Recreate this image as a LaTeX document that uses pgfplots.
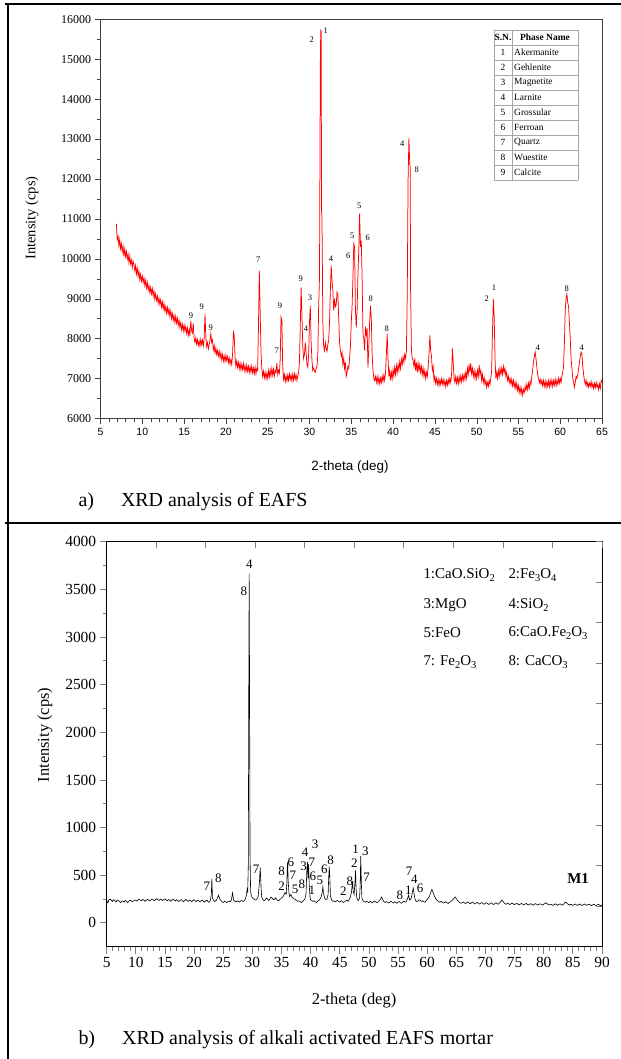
\documentclass[border=0pt]{standalone}
\usepackage{fontspec}
\setmainfont{Liberation Serif}
\newfontfamily\sans{Liberation Sans}
\usepackage{pgfplots}
\pgfplotsset{compat=1.18}
\newcommand{\fs}[1]{\fontsize{#1}{#1}\selectfont}
\newcommand{\sub}[1]{\raisebox{-3.5bp}{\fs{10.5}#1}}

\begin{document}
\begin{tikzpicture}[x=1bp,y=1bp]
\useasboundingbox (0,0) rectangle (621,-1059);
% frame of the figure table
\draw[line width=2bp] (5,-4) -- (621,-4);
\draw[line width=1.8bp] (8,-4) -- (8,-1059);
\draw[line width=1.8bp] (5,-523) -- (621,-523);

% ---------- a) EAFS ----------
\begin{axis}[
  at={(100.5bp,-418.3bp)}, anchor=south west,
  scale only axis, width=501.5bp, height=399bp,
  xmin=5, xmax=65, ymin=6000, ymax=16000,
  xtick={5,10,...,65}, minor x tick num=4,
  ytick={6000,7000,...,16000}, minor y tick num=1,
  tick pos=left, tick align=outside,
  major tick length=6bp, minor tick length=4bp,
  axis line style={black!75}, tick style={black!75},
  /pgf/number format/assume math mode=true,
  scaled y ticks=false,
  yticklabel style={/pgf/number format/1000 sep={}, font=\fs{12}},
  xticklabel style={font=\sans\fs{10.5}},
]
\addplot[red, line width=0.75pt] coordinates {
(6.9,10870)(7.0,10480)(7.1,10560)(7.2,10320)(7.3,10480)(7.4,10250)(7.5,10380)(7.6,10180)(7.7,10310)(7.8,10060)(7.9,10240)
(8.0,10050)(8.1,10180)(8.2,9990)(8.3,10110)(8.4,9900)(8.5,10060)(8.6,9870)(8.7,9960)(8.8,9780)(8.9,9940)
(9.0,9860)(9.1,9700)(9.2,9830)(9.3,9620)(9.4,9760)(9.5,9560)(9.6,9690)(9.7,9470)(9.8,9610)(9.9,9440)
(10.0,9560)(10.1,9400)(10.2,9520)(10.3,9330)(10.4,9460)(10.5,9270)(10.6,9400)(10.7,9210)(10.8,9330)(10.9,9150)
(11.0,9280)(11.1,9120)(11.2,9250)(11.3,9060)(11.4,9190)(11.5,8990)(11.6,9120)(11.7,8960)(11.8,9060)(11.9,8880)
(12.0,9010)(12.1,8860)(12.2,8970)(12.3,8790)(12.4,8920)(12.5,8740)(12.6,8870)(12.7,8690)(12.8,8800)(12.9,8640)
(13.0,8780)(13.1,8620)(13.2,8740)(13.3,8560)(13.4,8690)(13.5,8500)(13.6,8630)(13.7,8460)(13.8,8580)(13.9,8400)
(14.0,8550)(14.1,8390)(14.2,8510)(14.3,8330)(14.4,8450)(14.5,8280)(14.6,8400)(14.7,8220)(14.8,8350)(14.9,8190)
(15.0,8340)(15.1,8190)(15.2,8300)(15.3,8130)(15.4,8260)(15.5,8080)(15.6,8220)(15.7,8060)(15.8,8450)(15.9,8200)
(16.0,8140)(16.1,8380)(16.2,8010)(16.3,7900)(16.4,8020)(16.5,7860)(16.6,7970)(16.7,7830)(16.8,7940)(16.9,7810)
(17.0,7980)(17.1,7850)(17.2,7960)(17.3,7810)(17.4,7990)(17.5,8620)(17.6,8050)(17.7,7800)(17.8,7900)(17.9,7740)
(18.0,7850)(18.1,7960)(18.2,8120)(18.3,7900)(18.4,7960)(18.5,7720)(18.6,7820)(18.7,7640)(18.8,7760)(18.9,7600)
(19.0,7700)(19.1,7560)(19.2,7680)(19.3,7520)(19.4,7640)(19.5,7470)(19.6,7600)(19.7,7440)(19.8,7560)(19.9,7420)
(20.0,7580)(20.1,7450)(20.2,7550)(20.3,7390)(20.4,7510)(20.5,7360)(20.6,7470)(20.7,7350)(20.8,7600)(20.9,8160)
(21.0,8080)(21.1,7520)(21.2,7300)(21.3,7440)(21.4,7280)(21.5,7400)(21.6,7240)(21.7,7380)(21.8,7220)(21.9,7350)
(22.0,7220)(22.1,7370)(22.2,7200)(22.3,7320)(22.4,7170)(22.5,7330)(22.6,7180)(22.7,7300)(22.8,7150)(22.9,7290)
(23.0,7160)(23.1,7310)(23.2,7140)(23.3,7260)(23.4,7120)(23.5,7280)(23.6,7110)(23.7,7250)(23.8,7200)(23.9,8300)
(24.0,9700)(24.1,8700)(24.2,7650)(24.3,7250)(24.4,7050)(24.5,7180)(24.6,7020)(24.7,7150)(24.8,6990)(24.9,7130)
(25.0,7000)(25.1,7200)(25.2,7040)(25.3,7210)(25.4,7060)(25.5,7250)(25.6,7080)(25.7,7230)(25.8,7060)(25.9,7200)
(26.0,7150)(26.1,7380)(26.2,7100)(26.3,7200)(26.4,7130)(26.5,7480)(26.6,8530)(26.7,8450)(26.8,7300)(26.9,6980)
(27.0,7100)(27.1,6920)(27.2,7060)(27.3,6930)(27.4,7080)(27.5,6950)(27.6,7110)(27.7,6970)(27.8,7090)(27.9,6940)
(28.0,7100)(28.1,6960)(28.2,7120)(28.3,6980)(28.4,7090)(28.5,6950)(28.6,7060)(28.7,7150)(28.8,7400)(28.9,8300)
(29.0,9280)(29.1,8600)(29.2,7800)(29.3,7500)(29.4,7600)(29.5,7900)(29.6,7650)(29.7,7350)(29.8,7280)(29.9,7600)
(30.0,8400)(30.1,8825)(30.2,7900)(30.3,7450)(30.4,7200)(30.5,7260)(30.6,7180)(30.7,7150)(30.8,7250)(30.9,7300)
(31.0,7600)(31.1,8800)(31.2,9530)(31.3,14870)(31.35,15720)(31.4,15700)(31.45,11200)(31.5,11000)(31.6,8400)(31.7,7800)(31.8,7700)(31.9,7900)
(32.0,7750)(32.1,7680)(32.2,7850)(32.3,7950)(32.4,8400)(32.5,9200)(32.6,9825)(32.7,9450)(32.8,9200)(32.9,8700)
(33.0,9000)(33.1,8800)(33.2,8850)(33.3,9160)(33.4,9100)(33.5,8500)(33.6,7900)(33.7,7700)(33.8,7550)(33.9,7650)
(34.0,7350)(34.1,7500)(34.2,7250)(34.3,7400)(34.4,7050)(34.5,7150)(34.6,7300)(34.7,7250)(34.8,7500)(34.9,7800)
(35.0,8400)(35.1,8800)(35.2,9500)(35.3,10370)(35.4,10300)(35.5,8700)(35.6,8280)(35.7,8700)(35.8,9600)(35.9,10200)
(36.0,11130)(36.1,10300)(36.2,10450)(36.3,9500)(36.4,8120)(36.5,8000)(36.6,7700)(36.7,8300)(36.8,8100)(36.9,8250)
(37.0,7270)(37.1,7800)(37.2,8400)(37.3,8825)(37.4,8500)(37.5,7600)(37.6,7200)(37.7,7000)(37.8,6950)(37.9,7050)
(38.0,6900)(38.1,7050)(38.2,6880)(38.3,7020)(38.4,6870)(38.5,7010)(38.6,6900)(38.7,7060)(38.8,6920)(38.9,7080)
(39.0,6950)(39.1,7150)(39.2,7600)(39.3,8120)(39.4,7500)(39.5,7050)(39.6,7200)(39.7,6950)(39.8,7150)(39.9,7000)
(40.0,7220)(40.1,7050)(40.2,7280)(40.3,7100)(40.4,7320)(40.5,7150)(40.6,7350)(40.7,7200)(40.8,7420)(40.9,7250)
(41.0,7480)(41.1,7350)(41.2,7550)(41.3,7400)(41.4,7600)(41.5,7500)(41.6,7700)(41.7,9120)(41.8,12000)(41.9,13030)
(42.0,12370)(42.05,12300)(42.1,9220)(42.2,7700)(42.3,7500)(42.4,7450)(42.5,7300)(42.6,7500)(42.7,7200)(42.8,7400)(42.9,7150)
(43.0,7380)(43.1,7200)(43.2,7350)(43.3,7150)(43.4,7300)(43.5,7100)(43.6,7250)(43.7,7050)(43.8,7200)(43.9,7000)
(44.0,7150)(44.1,7050)(44.2,7300)(44.3,7600)(44.4,8075)(44.5,7700)(44.6,7550)(44.7,7200)(44.8,7300)(44.9,6950)
(45.0,7050)(45.1,6880)(45.2,7000)(45.3,6850)(45.4,6980)(45.5,6820)(45.6,6960)(45.7,6850)(45.8,6990)(45.9,6860)
(46.0,6970)(46.1,6830)(46.2,6950)(46.3,6800)(46.4,6940)(46.5,6830)(46.6,6980)(46.7,6860)(46.8,7000)(46.9,6900)
(47.0,7100)(47.1,7750)(47.2,7400)(47.3,7000)(47.4,6900)(47.5,7050)(47.6,6880)(47.7,7020)(47.8,6870)(47.9,7050)
(48.0,6900)(48.1,7060)(48.2,6920)(48.3,7080)(48.4,6950)(48.5,7100)(48.6,6970)(48.7,7150)(48.8,7000)(48.9,7250)
(49.0,7100)(49.1,7350)(49.2,7150)(49.3,7380)(49.4,7120)(49.5,7250)(49.6,7050)(49.7,7200)(49.8,7000)(49.9,7150)
(50.0,7000)(50.1,7200)(50.2,7050)(50.3,7330)(50.4,7100)(50.5,7200)(50.6,6950)(50.7,7100)(50.8,6900)(50.9,7020)
(51.0,6850)(51.1,6950)(51.2,6780)(51.3,6900)(51.4,6800)(51.5,6950)(51.6,6850)(51.7,7000)(51.8,7200)(51.9,8200)
(52.0,8990)(52.1,8550)(52.2,7500)(52.3,7000)(52.4,7150)(52.5,7000)(52.6,7200)(52.7,7050)(52.8,7250)(52.9,7100)
(53.0,7250)(53.1,7100)(53.2,7300)(53.3,7150)(53.4,7250)(53.5,7050)(53.6,7150)(53.7,6950)(53.8,7050)(53.9,6900)
(54.0,7000)(54.1,6850)(54.2,6980)(54.3,6820)(54.4,6950)(54.5,6780)(54.6,6900)(54.7,6750)(54.8,6880)(54.9,6700)
(55.0,6820)(55.1,6650)(55.2,6780)(55.3,6620)(55.4,6750)(55.5,6580)(55.6,6720)(55.7,6650)(55.8,6800)(55.9,6700)
(56.0,6850)(56.1,6720)(56.2,6880)(56.3,6750)(56.4,6920)(56.5,6850)(56.6,7050)(56.7,7200)(56.8,7400)(56.9,7550)
(57.0,7660)(57.1,7500)(57.2,7300)(57.3,7100)(57.4,7000)(57.5,6900)(57.6,6980)(57.7,6850)(57.8,6950)(57.9,6820)
(58.0,6950)(58.1,6800)(58.2,6930)(58.3,6780)(58.4,6920)(58.5,6800)(58.6,6940)(58.7,6790)(58.8,6950)(58.9,6820)
(59.0,6960)(59.1,6800)(59.2,6940)(59.3,6830)(59.4,6980)(59.5,6820)(59.6,6950)(59.7,6850)(59.8,7000)(59.9,6880)
(60.0,7000)(60.1,6900)(60.2,7050)(60.3,7150)(60.4,7300)(60.5,7900)(60.6,8700)(60.7,9000)(60.8,9120)(60.9,8900)
(61.0,8800)(61.1,8400)(61.2,8000)(61.3,7500)(61.4,7250)(61.5,7000)(61.6,6900)(61.7,6780)(61.8,6900)(61.9,7050)
(62.0,7000)(62.1,7100)(62.2,7250)(62.3,7400)(62.4,7550)(62.5,7660)(62.6,7600)(62.7,7300)(62.8,7100)(62.9,6950)
(63.0,6850)(63.1,6950)(63.2,6800)(63.3,6900)(63.4,6780)(63.5,6880)(63.6,6800)(63.7,6920)(63.8,6780)(63.9,6870)
(64.0,6750)(64.1,6880)(64.2,6770)(64.3,6900)(64.4,6780)(64.5,6850)(64.6,6720)(64.7,6860)(64.8,6750)(64.9,6950)(65.0,6900)
};
\begin{scope}[font=\fs{8.5}]
\node at (axis cs:15.83,8575) {9};
\node at (axis cs:17.11,8785) {9};
\node at (axis cs:18.19,8280) {9};
\node at (axis cs:23.88,9965) {7};
\node at (axis cs:26.08,7685) {7};
\node at (axis cs:26.48,8825) {9};
\node at (axis cs:28.95,9490) {9};
\node at (axis cs:29.59,8240) {4};
\node at (axis cs:30.07,9030) {3};
\node at (axis cs:30.27,15490) {2};
\node at (axis cs:31.94,15720) {1};
\node at (axis cs:32.58,9990) {4};
\node at (axis cs:34.65,10075) {6};
\node at (axis cs:35.13,10575) {5};
\node at (axis cs:35.96,11325) {5};
\node at (axis cs:36.97,10517) {6};
\node at (axis cs:37.33,8990) {8};
\node at (axis cs:39.24,8240) {8};
\node at (axis cs:41.11,12870) {4};
\node at (axis cs:42.83,12240) {8};
\node at (axis cs:51.21,9010) {2};
\node at (axis cs:52.08,9280) {1};
\node at (axis cs:57.31,7760) {4};
\node at (axis cs:60.78,9240) {8};
\node at (axis cs:62.57,7780) {4};
\end{scope}
\end{axis}

% phase table
\begin{scope}[black!35, line width=0.6bp]
\foreach \i in {0,...,10} \draw (494,{-30-15*\i}) -- (578,{-30-15*\i});
\draw (494,-30) -- (494,-180);
\draw (512,-30) -- (512,-180);
\draw (578,-30) -- (578,-180);
\end{scope}
\node[font=\fs{9.5}\bfseries] at (503,-37.5) {S.N.};
\node[font=\fs{9.5}\bfseries] at (545,-37.5) {Phase Name};
\foreach \name [count=\i] in {Akermanite,Gehlenite,Magnetite,Larnite,Grossular,Ferroan,Quartz,Wuestite,Calcite} {
  \node[font=\fs{9.5}] at (503,{-37.5-15*\i}) {\i};
  \node[font=\fs{9.5}, anchor=west, inner sep=0pt] at (514,{-37.5-15*\i}) {\name};
}
\node[font=\fs{14.5}, rotate=90] at (32,-218) {Intensity (cps)};
\node[font=\sans\fs{13.5}] at (350,-467) {2-theta (deg)};
\node[font=\fs{20}, anchor=west] at (75,-502) {a)\hspace{27bp}XRD analysis of EAFS};

% ---------- b) alkali activated EAFS mortar ----------
\begin{axis}[
  at={(106.7bp,-946.7bp)}, anchor=south west,
  scale only axis, width=495.3bp, height=405bp,
  xmin=5, xmax=90, ymin=-250, ymax=4000,
  xtick={5,10,...,90}, minor x tick num=4,
  ytick={0,500,...,4000}, minor y tick num=1,
  tick pos=left, tick align=outside,
  major tick length=7bp, minor tick length=4bp,
  axis line style={line width=1bp}, tick style={line width=0.8bp},
  /pgf/number format/assume math mode=true,
  scaled y ticks=false,
  yticklabel style={/pgf/number format/1000 sep={}, font=\fs{15.5}},
  xticklabel style={font=\fs{15.5}},
]
\addplot[black, line width=0.6pt] coordinates {
(5.0,235)(5.2,210)(5.4,245)(5.6,250)(5.8,238)(6.0,226)(6.2,244)(6.4,232)(6.6,218)(6.8,240)
(7.0,236)(7.2,222)(7.4,214)(7.6,230)(7.8,226)(8.0,218)(8.2,236)(8.4,228)(8.6,212)(8.8,226)
(9.0,240)(9.2,232)(9.4,222)(9.6,230)(9.8,242)(10.0,236)(10.2,228)(10.4,244)(10.6,250)(10.8,238)
(11.0,232)(11.2,246)(11.4,240)(11.6,226)(11.8,236)(12.0,248)(12.2,238)(12.4,230)(12.6,244)(12.8,252)
(13.0,240)(13.2,232)(13.4,246)(13.6,254)(13.8,242)(14.0,236)(14.2,250)(14.4,244)(14.6,234)(14.8,246)
(15.0,252)(15.2,240)(15.4,232)(15.6,246)(15.8,238)(16.0,226)(16.2,242)(16.4,250)(16.6,236)(16.8,230)
(17.0,244)(17.2,232)(17.4,224)(17.6,238)(17.8,244)(18.0,230)(18.2,222)(18.4,236)(18.6,246)(18.8,232)
(19.0,226)(19.2,240)(19.4,234)(19.6,222)(19.8,236)(20.0,244)(20.2,230)(20.4,224)(20.6,238)(20.8,232)
(21.0,220)(21.2,234)(21.4,240)(21.6,226)(21.8,218)(22.0,232)(22.2,238)(22.4,224)(22.6,216)(22.8,236)
(22.95,300)(23.05,465)(23.15,260)(23.3,240)(23.5,224)(23.7,232)(23.9,246)(24.0,262)(24.2,290)(24.4,252)(24.6,236)(24.8,220)
(25.0,214)(25.2,226)(25.4,222)(25.6,212)(25.8,224)(26.0,230)(26.2,222)(26.4,240)(26.5,280)(26.6,315)(26.7,270)(26.8,236)
(27.0,228)(27.2,220)(27.4,232)(27.6,226)(27.8,218)(28.0,230)(28.2,236)(28.4,224)(28.6,232)(28.8,250)
(29.0,300)(29.1,355)(29.2,330)(29.3,600)(29.38,2400)(29.45,3665)(29.52,2400)(29.6,700)(29.7,330)(29.8,290)
(30.0,262)(30.2,252)(30.4,246)(30.6,240)(30.8,250)(31.0,280)(31.2,420)(31.35,580)(31.5,360)(31.6,270)(31.8,246)
(32.0,232)(32.2,240)(32.4,262)(32.6,252)(32.8,236)(33.0,248)(33.2,272)(33.4,258)(33.6,244)(33.8,250)
(34.0,262)(34.2,244)(34.4,232)(34.6,238)(34.8,250)(35.0,262)(35.2,270)(35.4,290)(35.6,318)(35.8,300)
(35.9,400)(36.0,590)(36.05,640)(36.15,430)(36.3,300)(36.4,276)(36.6,300)(36.8,270)
(37.0,262)(37.2,250)(37.4,244)(37.6,236)(37.8,226)(38.0,232)(38.2,220)(38.4,214)(38.6,226)(38.8,236)
(39.0,252)(39.2,300)(39.35,560)(39.45,640)(39.55,470)(39.65,620)(39.75,400)(39.9,270)
(40.0,240)(40.2,236)(40.4,226)(40.6,232)(40.8,220)(41.0,214)(41.2,228)(41.4,236)(41.6,250)(41.8,270)
(42.0,330)(42.1,380)(42.2,310)(42.4,262)(42.6,244)(42.8,250)(43.0,300)(43.1,480)(43.2,590)(43.3,460)(43.4,280)(43.6,240)(43.8,226)
(44.0,232)(44.2,220)(44.4,228)(44.6,236)(44.8,224)(45.0,218)(45.2,232)(45.4,226)(45.6,214)(45.8,222)
(46.0,232)(46.2,240)(46.4,226)(46.6,244)(46.8,270)(47.0,320)(47.2,440)(47.3,330)(47.45,300)(47.6,420)(47.7,550)(47.8,360)(47.9,270)
(48.0,250)(48.2,236)(48.4,262)(48.5,400)(48.6,700)(48.7,420)(48.8,260)
(49.0,230)(49.2,222)(49.4,216)(49.6,228)(49.8,220)(50.0,212)(50.2,226)(50.4,220)(50.6,210)(50.8,224)
(51.0,230)(51.2,218)(51.4,212)(51.6,224)(51.8,236)(52.0,250)(52.2,272)(52.4,240)(52.6,222)(52.8,214)
(53.0,224)(53.2,218)(53.4,208)(53.6,220)(53.8,226)(54.0,214)(54.2,208)(54.4,222)(54.6,216)(54.8,206)
(55.0,218)(55.2,224)(55.4,212)(55.6,206)(55.8,220)(56.0,228)(56.2,216)(56.4,224)(56.6,250)(56.8,290)
(57.0,240)(57.2,250)(57.4,300)(57.6,365)(57.8,280)(58.0,236)(58.2,222)(58.4,230)(58.6,244)(58.8,236)
(59.0,226)(59.2,232)(59.4,222)(59.6,216)(59.8,230)(60.0,246)(60.2,262)(60.4,280)(60.6,320)(60.8,352)
(61.0,320)(61.2,288)(61.4,262)(61.6,244)(61.8,230)(62.0,222)(62.2,216)(62.4,226)(62.6,218)(62.8,208)
(63.0,214)(63.2,222)(63.4,210)(63.6,204)(63.8,216)(64.0,224)(64.2,232)(64.4,242)(64.6,258)(64.8,272)
(65.0,254)(65.2,236)(65.4,222)(65.6,214)(65.8,206)(66.0,212)(66.2,220)(66.4,210)(66.6,202)(66.8,214)
(67.0,220)(67.2,208)(67.4,200)(67.6,212)(67.8,218)(68.0,206)(68.2,198)(68.4,210)(68.6,216)(68.8,204)
(69.0,198)(69.2,208)(69.4,214)(69.6,202)(69.8,196)(70.0,206)(70.2,212)(70.4,200)(70.6,194)(70.8,204)
(71.0,210)(71.2,200)(71.4,192)(71.6,204)(71.8,212)(72.0,202)(72.2,196)(72.4,208)(72.6,222)(72.8,238)
(73.0,228)(73.2,210)(73.4,200)(73.6,196)(73.8,206)(74.0,200)(74.2,192)(74.4,202)(74.6,208)(74.8,198)
(75.0,192)(75.2,200)(75.4,206)(75.6,196)(75.8,190)(76.0,198)(76.2,204)(76.4,194)(76.6,188)(76.8,198)
(77.0,204)(77.2,194)(77.4,188)(77.6,196)(77.8,202)(78.0,192)(78.2,186)(78.4,196)(78.6,202)(78.8,194)
(79.0,188)(79.2,196)(79.4,200)(79.6,192)(79.8,186)(80.0,196)(80.2,204)(80.4,212)(80.6,200)(80.8,192)
(81.0,188)(81.2,196)(81.4,190)(81.6,184)(81.8,194)(82.0,200)(82.2,192)(82.4,186)(82.6,194)(82.8,200)
(83.0,192)(83.2,186)(83.4,196)(83.6,210)(83.8,220)(84.0,206)(84.2,194)(84.4,188)(84.6,196)(84.8,190)
(85.0,184)(85.2,192)(85.4,198)(85.6,190)(85.8,184)(86.0,192)(86.2,198)(86.4,188)(86.6,182)(86.8,192)
(87.0,198)(87.2,190)(87.4,184)(87.6,192)(87.8,196)(88.0,188)(88.2,182)(88.4,190)(88.6,196)(88.8,188)
(89.0,182)(89.2,190)(89.4,194)(89.6,186)(89.8,180)(90.0,188)
};
\begin{scope}[font=\fs{13}]
\node at (axis cs:22.2,385) {7};
\node at (axis cs:24.15,470) {8};
\node at (axis cs:28.55,3480) {8};
\node at (axis cs:29.5,3760) {4};
\node at (axis cs:30.62,565) {7};
\node at (axis cs:35.0,540) {8};
\node at (axis cs:35.0,380) {2};
\node at (axis cs:36.6,635) {6};
\node at (axis cs:36.95,495) {7};
\node at (axis cs:37.35,355) {5};
\node at (axis cs:38.5,410) {8};
\node at (axis cs:39.06,740) {4};
\node at (axis cs:38.8,595) {3};
\node at (axis cs:40.78,820) {3};
\node at (axis cs:40.2,635) {7};
\node at (axis cs:40.37,488) {6};
\node at (axis cs:40.2,340) {1};
\node at (axis cs:41.6,445) {5};
\node at (axis cs:42.35,565) {6};
\node at (axis cs:43.44,662) {8};
\node at (axis cs:45.6,330) {2};
\node at (axis cs:46.75,442) {8};
\node at (axis cs:47.73,775) {1};
\node at (axis cs:47.5,628) {2};
\node at (axis cs:49.38,750) {3};
\node at (axis cs:49.62,482) {7};
\node at (axis cs:55.33,295) {8};
\node at (axis cs:56.76,348) {1};
\node at (axis cs:56.88,540) {7};
\node at (axis cs:57.8,460) {4};
\node at (axis cs:58.77,365) {6};
\end{scope}
\node[font=\fs{15}\bfseries] at (axis cs:85.9,470) {M1};
\end{axis}
% inward ticks on top and right of the lower frame
\begin{axis}[
  at={(106.7bp,-946.7bp)}, anchor=south west,
  scale only axis, width=495.3bp, height=405bp,
  xmin=5, xmax=90, ymin=-250, ymax=4000,
  axis line style={draw=none}, tick pos=right, tick align=inside,
  xtick={13.5,22,...,90}, ytick={175,600,...,4000},
  xticklabels={}, yticklabels={},
  major tick length=6bp, tick style={line width=0.8bp},
]
\end{axis}

\begin{scope}[font=\fs{15}]
\node[anchor=west] at (420,-575) {1:CaO.SiO\sub{2}};
\node[anchor=west] at (505,-575) {2:Fe\sub{3}O\sub{4}};
\node[anchor=west] at (420,-605) {3:MgO};
\node[anchor=west] at (505,-605) {4:SiO\sub{2}};
\node[anchor=west] at (420,-633) {5:FeO};
\node[anchor=west] at (505,-633) {6:CaO.Fe\sub{2}O\sub{3}};
\node[anchor=west] at (420,-662) {7: Fe\sub{2}O\sub{3}};
\node[anchor=west] at (505,-662) {8: CaCO\sub{3}};
\end{scope}
\node[font=\fs{16.5}, rotate=90] at (45,-735) {Intensity (cps)};
\node[font=\fs{16.5}] at (354,-1001) {2-theta (deg)};
\node[font=\fs{20}, anchor=west] at (75,-1040) {b)\hspace{27bp}XRD analysis of alkali activated EAFS mortar};
\end{tikzpicture}
\end{document}
